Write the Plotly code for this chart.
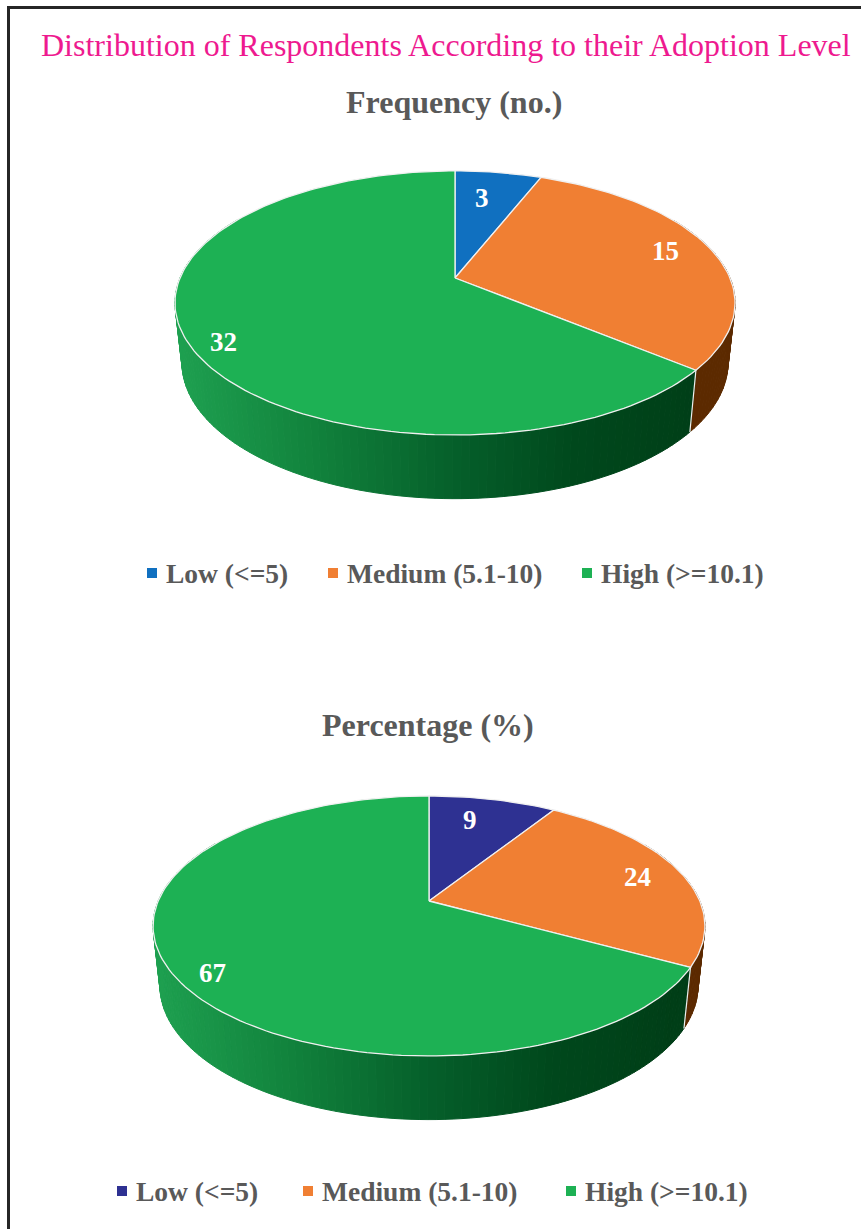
import numpy as np
import plotly.graph_objects as go

# Survey results
LEVELS = ["Low (<=5)", "Medium (5.1-10)", "High (>=10.1)"]
FREQUENCY = [3, 15, 32]
PERCENTAGE = [9, 24, 67]

TITLE = "Distribution of Respondents According to their Adoption Level"
PANEL_TITLES = ["Frequency (no.)", "Percentage (%)"]

WIDTH, HEIGHT = 861, 1229
SERIF = "Liberation Serif"
GREY = "#595959"
RIM = "#f0f0f0"

# Tilted-disc geometry of each pie: apex, radii, perspective, wall depth
PANELS = [
    dict(values=FREQUENCY, cx=455, cy=278, R=275.0, S=127.3, p=0.189, depth=59,
         colors=["#1070c0", "#f07f33", "#1db154"],
         label_r=[0.722, 0.826, 0.896], label_da=[-1.9, -1.1, -5.6],
         title_y=102, legend_y=573, legend_x=[152, 333, 587]),
    dict(values=PERCENTAGE, cx=429, cy=901, R=270.8, S=125.2, p=0.192, depth=59,
         colors=["#2e3192", "#f07f33", "#1db154"],
         label_r=[0.759, 0.825, 0.888], label_da=[-3.0, 0.4, -5.1],
         title_y=725, legend_y=1191, legend_x=[122, 308, 571]),
]

# Shading of the wall from its left edge to its right edge
GREEN_WALL = [(0.0, (30, 160, 80)), (0.25, (17, 130, 60)), (0.5, (5, 95, 42)),
              (0.72, (0, 72, 28)), (1.0, (0, 60, 22))]
ORANGE_WALL = [(0.0, (92, 42, 0)), (1.0, (92, 42, 0))]
BLUE_WALL = [(0.0, (10, 50, 90)), (1.0, (10, 50, 90))]
WALL_BANDS = [BLUE_WALL, ORANGE_WALL, GREEN_WALL]

BOTTOM_X_SCALE = 0.975
BOTTOM_Y_SCALE = 1.03
STEP_DEG = 1.5


def top_rim(panel, deg, radius=1.0):
    a = np.radians(deg)
    u, v = radius * np.sin(a), radius * np.cos(a)
    w = 1 + panel["p"] * v
    return panel["cx"] + panel["R"] * u / w, panel["cy"] - panel["S"] * v / w


def bottom_rim(panel, deg):
    a = np.radians(deg)
    u, v = np.sin(a), np.cos(a)
    w = 1 + panel["p"] * v
    x = panel["cx"] + BOTTOM_X_SCALE * panel["R"] * u / w
    y = panel["cy"] + panel["depth"] - BOTTOM_Y_SCALE * panel["S"] * v / w
    return x, y


def wall_color(stops, t):
    t = min(max(t, 0.0), 1.0)
    xs = [s[0] for s in stops]
    rgb = [np.interp(t, xs, [s[1][i] for s in stops]) for i in range(3)]
    return "rgb({:.0f},{:.0f},{:.0f})".format(*rgb)


def angle_edges(start, end):
    n = max(int(np.ceil((end - start) / STEP_DEG)), 1)
    return np.linspace(start, end, n + 1)


fig = go.Figure()

for panel in PANELS:
    vals = np.array(panel["values"], dtype=float)
    edges = np.concatenate([[0.0], np.cumsum(vals) / vals.sum() * 360.0])
    half_width = panel["R"] / np.sqrt(1 - panel["p"] ** 2)
    left = panel["cx"] - half_width

    # Side wall, one narrow quad per step so the shading can vary along it
    for i in range(len(vals)):
        ang = angle_edges(edges[i], edges[i + 1])
        for a0, a1 in zip(ang[:-1], ang[1:]):
            mid = 0.5 * (a0 + a1)
            if np.cos(np.radians(mid)) > 0.5:
                continue
            x0, y0 = top_rim(panel, a0)
            x1, y1 = top_rim(panel, a1)
            x2, y2 = bottom_rim(panel, a1)
            x3, y3 = bottom_rim(panel, a0)
            col = wall_color(WALL_BANDS[i], ((x0 + x1) / 2 - left) / (2 * half_width))
            fig.add_trace(go.Scatter(
                x=[x0, x1, x2, x3, x0], y=[y0, y1, y2, y3, y0],
                mode="lines", fill="toself", fillcolor=col,
                line=dict(color=col, width=1), hoverinfo="skip", showlegend=False))

    # Light seams where two slices meet on the wall
    for a in edges[:-1]:
        if np.cos(np.radians(a)) < 0.3:
            xt, yt = top_rim(panel, a)
            xb, yb = bottom_rim(panel, a)
            fig.add_trace(go.Scatter(
                x=[xt, xb], y=[yt, yb], mode="lines",
                line=dict(color=RIM, width=1.2), hoverinfo="skip", showlegend=False))

    # Top face of each slice
    for i, name in enumerate(LEVELS):
        ang = angle_edges(edges[i], edges[i + 1])
        rx, ry = top_rim(panel, ang)
        fig.add_trace(go.Scatter(
            x=np.concatenate([[panel["cx"]], rx, [panel["cx"]]]),
            y=np.concatenate([[panel["cy"]], ry, [panel["cy"]]]),
            mode="lines", fill="toself", fillcolor=panel["colors"][i],
            line=dict(color=RIM, width=1.3), name=name,
            hoverinfo="name", showlegend=False))

    # Value labels
    for i, value in enumerate(panel["values"]):
        a = 0.5 * (edges[i] + edges[i + 1]) + panel["label_da"][i]
        lx, ly = top_rim(panel, a, panel["label_r"][i])
        fig.add_annotation(x=lx, y=ly, text=f"<b>{value}</b>", showarrow=False,
                           font=dict(family=SERIF, size=27, color="white"))

    # Key below the pie
    for i, name in enumerate(LEVELS):
        fig.add_trace(go.Scatter(
            x=[panel["legend_x"][i]], y=[panel["legend_y"]], mode="markers",
            marker=dict(symbol="square", size=10, color=panel["colors"][i]),
            hoverinfo="skip", showlegend=False))
        fig.add_annotation(x=panel["legend_x"][i] + 12, y=panel["legend_y"],
                           text=f"<b>{name.replace('<', '&lt;')}</b>", showarrow=False,
                           xanchor="left",
                           font=dict(family=SERIF, size=27.5, color=GREY))

for panel, text in zip(PANELS, PANEL_TITLES):
    fig.add_annotation(x=panel["cx"] - 1, y=panel["title_y"], text=f"<b>{text}</b>",
                       showarrow=False, font=dict(family=SERIF, size=32, color=GREY))

fig.add_annotation(x=446, y=45, text=TITLE, showarrow=False,
                   font=dict(family=SERIF, size=32, color="#ee1a8f"))

fig.update_layout(
    width=WIDTH, height=HEIGHT, margin=dict(l=0, r=0, t=0, b=0),
    paper_bgcolor="white", plot_bgcolor="white", showlegend=False,
    xaxis=dict(range=[0, WIDTH], visible=False, fixedrange=True),
    yaxis=dict(range=[HEIGHT, 0], visible=False, fixedrange=True),
    shapes=[
        dict(type="line", xref="x", yref="y", x0=7, x1=WIDTH, y0=7.5, y1=7.5,
             line=dict(color="#262626", width=3)),
        dict(type="line", xref="x", yref="y", x0=8.5, x1=8.5, y0=6, y1=HEIGHT,
             line=dict(color="#262626", width=3)),
    ],
)

fig.write_html("out.html")
